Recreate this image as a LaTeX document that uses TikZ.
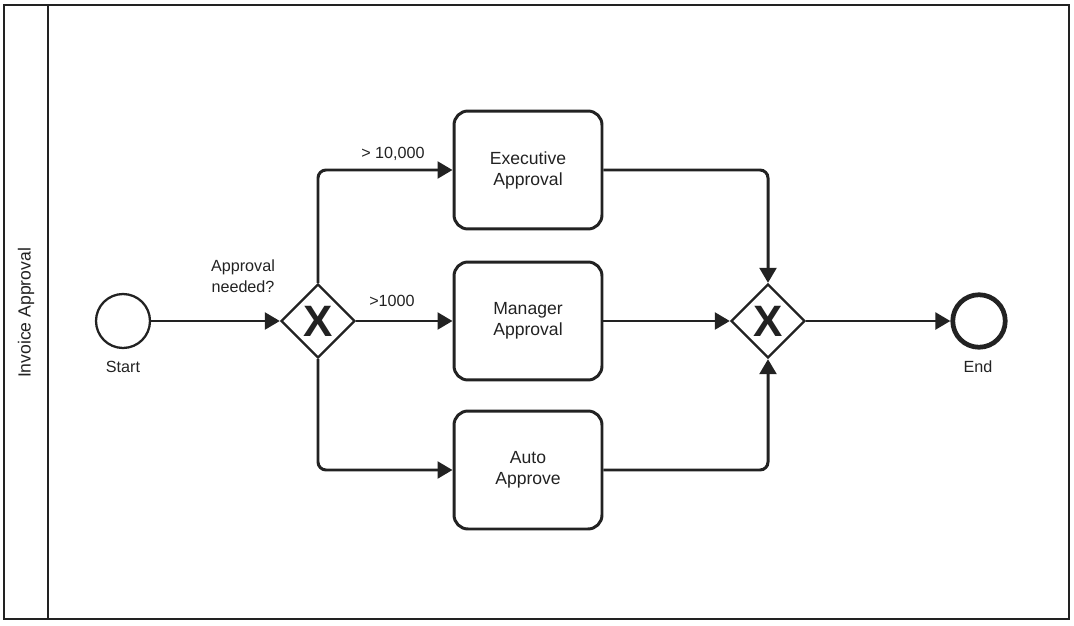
\documentclass[tikz,border=0pt]{standalone}
\usepackage{fontspec}
\setmainfont{Liberation Sans}
\usepackage{xcolor}
\usetikzlibrary{arrows.meta,shapes.geometric}
\definecolor{ink}{RGB}{34,34,34}

\tikzset{
    task/.style={draw=ink, line width=1.7pt, rounded corners=0.28cm, minimum width=2.96cm, minimum height=2.36cm,
        align=center, text=ink, font=\fontsize{10}{12}\selectfont},
    gateway/.style={diamond, draw=ink, line width=1.3pt, minimum size=1.48cm, inner sep=0pt,
        text=ink, font=\fontsize{25}{25}\selectfont\bfseries},
    startevent/.style={circle, draw=ink, line width=1.3pt, minimum size=1.08cm, inner sep=0pt},
    endevent/.style={circle, draw=ink, line width=2.7pt, minimum size=1.05cm, inner sep=0pt},
    flow/.style={draw=ink, line width=1.7pt, rounded corners=0.16cm, -{Triangle[length=8.5pt,width=9.5pt]}},
    lbl/.style={text=ink, align=center, inner sep=0pt, font=\fontsize{9.2}{11.9}\selectfont},
    pool/.style={draw=ink, line width=0.9pt}
}

\begin{document}
\begin{tikzpicture}[x=0.02cm, y=-0.02cm]
    \useasboundingbox (0,0) rectangle (1074,625);

    % pool and lane
    \draw[pool] (4,5) rectangle (1069,619);
    \draw[pool] (48,5) -- (48,619);
    \node[rotate=90, text=ink, font=\fontsize{10}{12}\selectfont] (lane) at (26,313) {Invoice Approval};

    % events, gateways, tasks
    \node[startevent] (start) at (123,321) {};
    \node[gateway] (gw1) at (318,321) {X};
    \node[task] (exec) at (528,170) {Executive\\Approval};
    \node[task] (mgr) at (528,321) {Manager\\Approval};
    \node[task] (auto) at (528,470) {Auto\\Approve};
    \node[gateway] (gw2) at (768,321) {X};
    \node[endevent] (endev) at (979,321) {};

    % labels
    \node[lbl] (startlbl) at (123,367) {Start};
    \node[lbl] (endlbl) at (978,367) {End};
    \node[lbl] (needlbl) at (243,276) {Approval\\needed?};
    \node[lbl] (execlbl) at (393,154) {> 10,000};
    \node[lbl] (mgrlbl) at (392,301) {>1000};

    % sequence flows
    \draw[flow] (start) -- (gw1);
    \draw[flow] (gw1.north) |- (exec.west);
    \draw[flow] (gw1) -- (mgr);
    \draw[flow] (gw1.south) |- (auto.west);
    \draw[flow] (exec.east) -| (gw2.north);
    \draw[flow] (mgr) -- (gw2);
    \draw[flow] (auto.east) -| (gw2.south);
    \draw[flow] (gw2) -- (endev);
\end{tikzpicture}
\end{document}
